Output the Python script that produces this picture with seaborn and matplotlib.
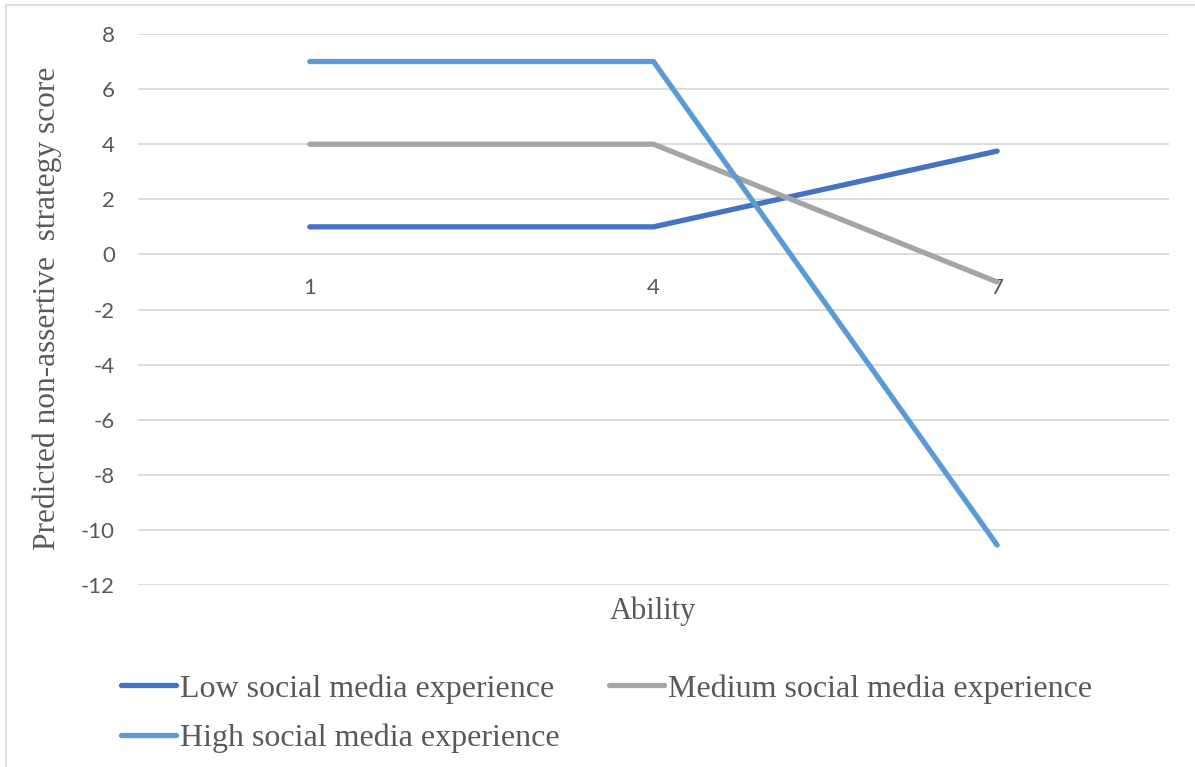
import matplotlib
matplotlib.use("Agg")
import matplotlib.pyplot as plt
from matplotlib.patches import Rectangle
import seaborn as sns
import pandas as pd

# Simple-slopes data: predicted score at three ability levels
ability = ["1", "4", "7"]
low_exp = [1.0, 1.0, 3.75]
medium_exp = [4.0, 4.0, -1.0]
high_exp = [7.0, 7.0, -10.55]
series_names = ["Low social media experience",
                "Medium social media experience",
                "High social media experience"]
y_ticks = [8, 6, 4, 2, 0, -2, -4, -6, -8, -10, -12]

colors = {"Low social media experience": "#4472C4",
          "Medium social media experience": "#A5A5A5",
          "High social media experience": "#5B9BD5"}

df = pd.DataFrame({
    "Ability": ability * 3,
    "Score": low_exp + medium_exp + high_exp,
    "Group": [series_names[0]] * 3 + [series_names[1]] * 3 + [series_names[2]] * 3,
})

sns.set_theme(style="white")
plt.rcParams["axes.unicode_minus"] = False
text_color = "#595959"
grid_color = "#D9D9D9"

fig = plt.figure(figsize=(11.95, 7.67), dpi=100)
ax = fig.add_axes([138 / 1195, 1 - 585 / 767, (1169 - 138) / 1195, (585 - 34) / 767])

sns.lineplot(data=df, x="Ability", y="Score", hue="Group", hue_order=series_names,
             palette=colors, sort=False, linewidth=3.8, legend=False, ax=ax,
             solid_capstyle="round", zorder=3)

ax.set_xlim(-0.5, 2.5)
ax.set_ylim(-12, 8)
ax.set_yticks(y_ticks)
ax.yaxis.grid(True, color=grid_color, linewidth=1.3)
ax.xaxis.grid(False)
for s in ["left", "right", "top"]:
    ax.spines[s].set_visible(False)
# horizontal axis crosses at zero; category labels sit just below it
ax.spines["bottom"].set_position(("data", 0))
ax.spines["bottom"].set_visible(False)
ax.set_xlabel("")
ax.set_ylabel("")

ax.tick_params(axis="y", length=0, pad=16.5, labelcolor=text_color)
ax.tick_params(axis="x", length=0, pad=17, labelcolor=text_color)
for lab in ax.get_yticklabels() + ax.get_xticklabels():
    lab.set_fontfamily("Lato")
    lab.set_fontsize(16)

serif = "Liberation Serif"
fig.text(653 / 1195, 1 - 611 / 767, "Ability", ha="center", va="center",
         family=serif, fontsize=22, color=text_color)
fig.text(47 / 1195, 1 - 308 / 767, "Predicted non-assertive  strategy score",
         ha="center", va="center", rotation=90, family=serif, fontsize=22.6,
         color=text_color)

# legend laid out row-wise: Low, Medium / High
handles = [plt.Line2D([], [], color=colors[n], linewidth=3.8, solid_capstyle="round")
           for n in series_names]
order = [0, 2, 1]
leg = fig.legend([handles[i] for i in order], [series_names[i] for i in order],
                 ncol=2, loc="upper left", bbox_to_anchor=(121 / 1195, 1 - 674 / 767),
                 frameon=False, prop=dict(family=serif, size=23),
                 handlelength=1.72, handletextpad=0.12, columnspacing=1.55,
                 labelspacing=0.63, borderpad=0, borderaxespad=0)
for t in leg.get_texts():
    t.set_color(text_color)

# thin outer chart border
fig.patches.append(Rectangle((5.5 / 1195, -0.1), 1.2, 1.1 - 5.5 / 767,
                             transform=fig.transFigure, fill=False,
                             edgecolor=grid_color, linewidth=1.2))

fig.savefig("out.png", dpi=100, facecolor="white")
